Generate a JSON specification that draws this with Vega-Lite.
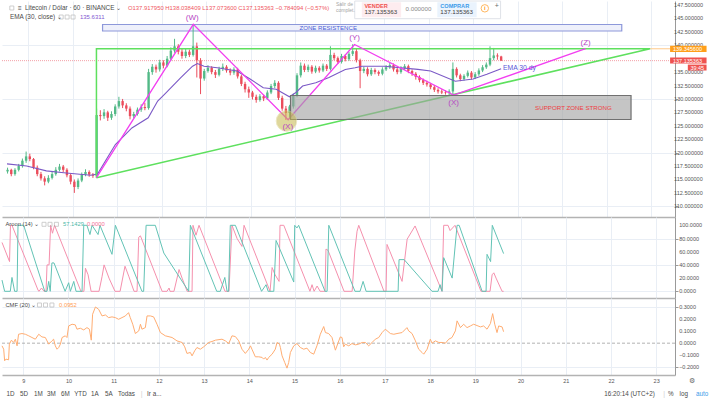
{
  "$schema": "https://vega.github.io/schema/vega-lite/v6.json",
  "background": "#ffffff",
  "padding": 0,
  "spacing": 0,
  "bounds": "flush",
  "config": {
    "view": {"stroke": null},
    "text": {"font": "Liberation Sans"},
    "axis": {"labelFont": "Liberation Sans"}
  },
  "resolve": {"scale": {"x": "independent", "y": "independent"}},
  "datasets": {
    "candles": [
      {"t":205,"o":116.5,"h":117.2,"l":116.1,"c":116.8},
      {"t":207,"o":116.8,"h":117.0,"l":115.6,"c":116.0},
      {"t":209,"o":116.0,"h":117.1,"l":115.7,"c":116.8},
      {"t":211,"o":116.8,"h":117.9,"l":116.5,"c":117.5},
      {"t":213,"o":117.5,"h":118.9,"l":117.2,"c":118.5},
      {"t":215,"o":118.5,"h":120.2,"l":118.1,"c":119.3},
      {"t":217,"o":119.3,"h":119.8,"l":118.4,"c":118.8},
      {"t":219,"o":118.8,"h":119.0,"l":116.9,"c":117.2},
      {"t":221,"o":117.2,"h":117.6,"l":115.6,"c":116.0},
      {"t":223,"o":116.0,"h":116.4,"l":114.8,"c":115.2},
      {"t":225,"o":115.2,"h":115.6,"l":113.9,"c":114.6},
      {"t":227,"o":114.6,"h":115.8,"l":114.3,"c":115.3},
      {"t":229,"o":115.3,"h":116.4,"l":115.0,"c":116.0},
      {"t":231,"o":116.0,"h":117.3,"l":115.7,"c":116.8},
      {"t":233,"o":116.8,"h":117.9,"l":116.5,"c":117.4},
      {"t":235,"o":117.4,"h":117.7,"l":116.4,"c":116.8},
      {"t":237,"o":116.8,"h":117.1,"l":115.4,"c":115.8},
      {"t":239,"o":115.8,"h":116.1,"l":114.1,"c":114.6},
      {"t":241,"o":114.6,"h":115.0,"l":112.5,"c":113.6},
      {"t":243,"o":113.6,"h":115.2,"l":113.2,"c":114.8},
      {"t":245,"o":114.8,"h":116.3,"l":114.5,"c":115.9},
      {"t":247,"o":115.9,"h":116.9,"l":115.6,"c":116.4},
      {"t":249,"o":116.4,"h":116.7,"l":115.5,"c":115.9},
      {"t":251,"o":115.9,"h":116.2,"l":115.3,"c":115.7},
      {"t":253,"o":115.7,"h":128.2,"l":115.3,"c":127.0},
      {"t":255,"o":127.0,"h":127.9,"l":126.0,"c":126.8},
      {"t":257,"o":126.8,"h":128.1,"l":126.3,"c":127.5},
      {"t":259,"o":127.5,"h":127.8,"l":125.9,"c":126.5},
      {"t":261,"o":126.5,"h":127.7,"l":126.1,"c":127.2},
      {"t":263,"o":127.2,"h":129.0,"l":126.8,"c":128.6},
      {"t":265,"o":128.6,"h":130.4,"l":128.2,"c":129.6},
      {"t":267,"o":129.6,"h":130.0,"l":128.3,"c":128.8},
      {"t":269,"o":128.8,"h":129.2,"l":127.7,"c":128.2},
      {"t":271,"o":128.2,"h":128.6,"l":126.2,"c":126.8},
      {"t":273,"o":126.8,"h":127.6,"l":126.4,"c":127.2},
      {"t":275,"o":127.2,"h":128.4,"l":126.9,"c":128.0},
      {"t":277,"o":128.0,"h":129.0,"l":127.6,"c":128.5},
      {"t":279,"o":128.5,"h":129.3,"l":127.9,"c":128.3},
      {"t":281,"o":128.3,"h":135.6,"l":128.0,"c":135.0},
      {"t":283,"o":135.0,"h":136.5,"l":134.5,"c":136.0},
      {"t":285,"o":136.0,"h":136.4,"l":134.9,"c":135.5},
      {"t":287,"o":135.5,"h":137.3,"l":135.1,"c":136.8},
      {"t":289,"o":136.8,"h":137.2,"l":135.7,"c":136.2},
      {"t":291,"o":136.2,"h":138.0,"l":135.9,"c":137.5},
      {"t":293,"o":137.5,"h":139.6,"l":137.1,"c":139.0},
      {"t":295,"o":139.0,"h":141.2,"l":138.6,"c":139.8},
      {"t":297,"o":139.8,"h":140.2,"l":138.3,"c":138.8},
      {"t":299,"o":138.8,"h":139.3,"l":137.5,"c":138.0},
      {"t":301,"o":138.0,"h":139.4,"l":137.6,"c":138.8},
      {"t":303,"o":138.8,"h":139.2,"l":137.8,"c":138.2},
      {"t":305,"o":138.2,"h":143.9,"l":137.9,"c":139.8},
      {"t":307,"o":139.8,"h":140.5,"l":134.0,"c":137.2},
      {"t":309,"o":137.2,"h":137.6,"l":130.9,"c":133.8},
      {"t":311,"o":133.8,"h":135.6,"l":133.4,"c":135.2},
      {"t":313,"o":135.2,"h":136.3,"l":134.9,"c":135.8},
      {"t":315,"o":135.8,"h":136.1,"l":134.6,"c":135.0},
      {"t":317,"o":135.0,"h":135.4,"l":133.9,"c":134.5},
      {"t":319,"o":134.5,"h":136.0,"l":134.2,"c":135.6},
      {"t":321,"o":135.6,"h":136.6,"l":135.2,"c":136.0},
      {"t":323,"o":136.0,"h":136.3,"l":134.9,"c":135.3},
      {"t":325,"o":135.3,"h":135.7,"l":134.4,"c":134.9},
      {"t":327,"o":134.9,"h":135.9,"l":134.5,"c":135.5},
      {"t":329,"o":135.5,"h":135.8,"l":133.8,"c":134.2},
      {"t":331,"o":134.2,"h":134.5,"l":132.4,"c":132.8},
      {"t":333,"o":132.8,"h":133.2,"l":131.2,"c":131.8},
      {"t":335,"o":131.8,"h":132.3,"l":130.2,"c":131.2},
      {"t":337,"o":131.2,"h":131.5,"l":129.9,"c":130.4},
      {"t":339,"o":130.4,"h":130.8,"l":129.3,"c":129.8},
      {"t":341,"o":129.8,"h":130.9,"l":129.5,"c":130.5},
      {"t":343,"o":130.5,"h":130.8,"l":129.6,"c":130.1},
      {"t":345,"o":130.1,"h":131.6,"l":129.8,"c":131.2},
      {"t":347,"o":131.2,"h":132.8,"l":130.9,"c":132.4},
      {"t":349,"o":132.4,"h":133.5,"l":132.0,"c":133.0},
      {"t":351,"o":133.0,"h":133.3,"l":129.8,"c":130.2},
      {"t":353,"o":130.2,"h":130.6,"l":127.8,"c":128.2},
      {"t":355,"o":128.2,"h":128.7,"l":126.1,"c":127.4},
      {"t":357,"o":127.4,"h":128.9,"l":126.3,"c":128.6},
      {"t":359,"o":128.6,"h":131.0,"l":128.2,"c":130.6},
      {"t":361,"o":130.6,"h":134.8,"l":130.3,"c":134.4},
      {"t":363,"o":134.4,"h":136.8,"l":134.0,"c":136.2},
      {"t":365,"o":136.2,"h":136.6,"l":135.0,"c":135.4},
      {"t":367,"o":135.4,"h":136.4,"l":135.0,"c":136.0},
      {"t":369,"o":136.0,"h":136.3,"l":134.7,"c":135.1},
      {"t":371,"o":135.1,"h":136.2,"l":134.8,"c":135.8},
      {"t":373,"o":135.8,"h":136.1,"l":134.9,"c":135.3},
      {"t":375,"o":135.3,"h":136.6,"l":135.0,"c":136.2},
      {"t":377,"o":136.2,"h":136.5,"l":135.2,"c":135.6},
      {"t":379,"o":135.6,"h":139.8,"l":135.3,"c":138.2},
      {"t":381,"o":138.2,"h":138.6,"l":137.2,"c":137.6},
      {"t":383,"o":137.6,"h":137.9,"l":136.5,"c":136.9},
      {"t":385,"o":136.9,"h":138.4,"l":136.6,"c":138.0},
      {"t":387,"o":138.0,"h":138.3,"l":137.0,"c":137.4},
      {"t":389,"o":137.4,"h":138.8,"l":137.1,"c":138.4},
      {"t":391,"o":138.4,"h":140.2,"l":138.0,"c":138.9},
      {"t":393,"o":138.9,"h":139.3,"l":136.8,"c":137.2},
      {"t":395,"o":137.2,"h":137.5,"l":132.0,"c":135.2},
      {"t":397,"o":135.2,"h":136.0,"l":134.8,"c":135.6},
      {"t":399,"o":135.6,"h":135.9,"l":134.2,"c":134.6},
      {"t":401,"o":134.6,"h":135.8,"l":134.3,"c":135.4},
      {"t":403,"o":135.4,"h":135.7,"l":134.6,"c":135.0},
      {"t":405,"o":135.0,"h":135.3,"l":134.3,"c":134.7},
      {"t":407,"o":134.7,"h":135.9,"l":134.4,"c":135.5},
      {"t":409,"o":135.5,"h":136.3,"l":135.2,"c":135.9},
      {"t":411,"o":135.9,"h":136.7,"l":135.6,"c":136.3},
      {"t":413,"o":136.3,"h":136.6,"l":135.1,"c":135.5},
      {"t":415,"o":135.5,"h":135.8,"l":134.6,"c":135.0},
      {"t":417,"o":135.0,"h":136.1,"l":134.7,"c":135.7},
      {"t":419,"o":135.7,"h":136.5,"l":135.4,"c":136.1},
      {"t":421,"o":136.1,"h":136.4,"l":134.8,"c":135.2},
      {"t":423,"o":135.2,"h":135.5,"l":134.3,"c":134.7},
      {"t":425,"o":134.7,"h":135.0,"l":133.6,"c":134.1},
      {"t":427,"o":134.1,"h":134.4,"l":133.1,"c":133.5},
      {"t":429,"o":133.5,"h":133.8,"l":132.6,"c":133.0},
      {"t":431,"o":133.0,"h":133.4,"l":132.3,"c":132.7},
      {"t":433,"o":132.7,"h":133.0,"l":131.8,"c":132.2},
      {"t":435,"o":132.2,"h":132.6,"l":131.3,"c":131.7},
      {"t":437,"o":131.7,"h":132.0,"l":131.0,"c":131.4},
      {"t":439,"o":131.4,"h":131.8,"l":130.9,"c":131.2},
      {"t":441,"o":131.2,"h":131.6,"l":130.8,"c":131.1},
      {"t":443,"o":131.1,"h":131.8,"l":130.6,"c":131.4},
      {"t":445,"o":131.4,"h":136.8,"l":130.7,"c":135.6},
      {"t":447,"o":135.6,"h":135.9,"l":134.0,"c":134.4},
      {"t":449,"o":134.4,"h":134.7,"l":133.3,"c":133.7},
      {"t":451,"o":133.7,"h":134.6,"l":133.4,"c":134.3},
      {"t":453,"o":134.3,"h":135.3,"l":134.0,"c":134.9},
      {"t":455,"o":134.9,"h":135.2,"l":133.6,"c":134.0},
      {"t":457,"o":134.0,"h":135.0,"l":133.7,"c":134.6},
      {"t":459,"o":134.6,"h":135.7,"l":134.3,"c":135.3},
      {"t":461,"o":135.3,"h":136.3,"l":135.0,"c":135.9},
      {"t":463,"o":135.9,"h":136.8,"l":135.6,"c":136.4},
      {"t":465,"o":136.4,"h":139.8,"l":136.1,"c":137.6},
      {"t":467,"o":137.6,"h":139.5,"l":137.2,"c":138.1},
      {"t":469,"o":138.1,"h":138.5,"l":137.3,"c":137.92},
      {"t":471,"o":137.918,"h":138.038,"l":137.074,"c":137.135}
    ],
    "ema": [
      {"t":204.7,"p":117.9},{"t":215.3,"p":117.5},{"t":225.9,"p":116.6},{"t":236.6,"p":116.2},
      {"t":249.8,"p":115.8},{"t":253.5,"p":116.0},{"t":257.8,"p":118.5},{"t":263.1,"p":121.5},
      {"t":272.0,"p":124.6},{"t":280.8,"p":126.5},{"t":285.9,"p":129.6},{"t":289.7,"p":130.9},
      {"t":298.5,"p":134.0},{"t":304.7,"p":136.1},{"t":307.3,"p":136.6},{"t":310.9,"p":136.1},
      {"t":318.0,"p":135.8},{"t":328.6,"p":135.2},{"t":335.7,"p":133.7},{"t":342.8,"p":132.1},
      {"t":349.8,"p":131.8},{"t":356.9,"p":130.4},{"t":360.4,"p":131.2},{"t":364.0,"p":132.4},
      {"t":371.1,"p":133.0},{"t":378.2,"p":134.0},{"t":387.0,"p":135.5},{"t":392.3,"p":135.8},
      {"t":395.9,"p":136.1},{"t":408.1,"p":136.1},{"t":426.1,"p":135.5},{"t":433.0,"p":135.2},
      {"t":446.3,"p":133.3},{"t":455.9,"p":133.7},{"t":463.3,"p":134.6},{"t":471.0,"p":135.63}
    ],
    "aroonUp": [
      {"t":204.7,"v":17},{"t":206.1,"v":0},{"t":209.1,"v":0},{"t":210.0,"v":21},{"t":211.4,"v":0},
      {"t":212.7,"v":0},{"t":213.2,"v":100},{"t":216.2,"v":100},{"t":227.4,"v":0},{"t":228.6,"v":0},
      {"t":229.5,"v":15},{"t":230.3,"v":0},{"t":231.2,"v":43},{"t":232.3,"v":43},{"t":238.2,"v":0},
      {"t":240.1,"v":13},{"t":241.0,"v":0},{"t":242.8,"v":15},{"t":244.0,"v":0},{"t":247.2,"v":0},
      {"t":248.1,"v":100},{"t":249.8,"v":100},{"t":251.4,"v":86},{"t":252.5,"v":100},{"t":255.7,"v":86},
      {"t":256.7,"v":100},{"t":263.1,"v":56},{"t":264.9,"v":100},{"t":279.0,"v":0},{"t":279.9,"v":0},
      {"t":281.2,"v":100},{"t":286.1,"v":100},{"t":290.6,"v":58},{"t":303.8,"v":0},{"t":304.7,"v":100},
      {"t":318.7,"v":0},{"t":320.6,"v":0},{"t":323.0,"v":21},{"t":324.2,"v":0},{"t":325.0,"v":0},
      {"t":325.9,"v":100},{"t":328.6,"v":100},{"t":342.5,"v":0},{"t":344.9,"v":10},{"t":346.0,"v":0},
      {"t":349.0,"v":0},{"t":350.2,"v":77},{"t":351.3,"v":70},{"t":359.6,"v":14},{"t":360.1,"v":100},
      {"t":361.3,"v":96},{"t":362.2,"v":100},{"t":376.2,"v":0},{"t":377.3,"v":0},{"t":378.2,"v":100},
      {"t":392.1,"v":0},{"t":394.8,"v":0},{"t":396.4,"v":15},{"t":398.0,"v":0},{"t":415.0,"v":0},
      {"t":415.5,"v":48},{"t":418.2,"v":48},{"t":433.0,"v":0},{"t":436.2,"v":0},{"t":437.3,"v":10},
      {"t":438.3,"v":0},{"t":439.2,"v":51},{"t":443.7,"v":20},{"t":446.3,"v":100},{"t":447.4,"v":100},
      {"t":459.6,"v":0},{"t":461.7,"v":0},{"t":462.2,"v":56},{"t":464.1,"v":45},{"t":465.0,"v":100},
      {"t":471.0,"v":57.14}
    ],
    "aroonDown": [
      {"t":204.7,"v":74},{"t":208.7,"v":45},{"t":209.2,"v":100},{"t":210.0,"v":100},{"t":223.8,"v":2},
      {"t":224.3,"v":0},{"t":225.7,"v":5},{"t":227.0,"v":0},{"t":228.1,"v":0},{"t":228.6,"v":40},
      {"t":229.7,"v":40},{"t":230.5,"v":100},{"t":231.5,"v":88},{"t":232.6,"v":100},{"t":246.6,"v":0},
      {"t":248.2,"v":0},{"t":249.0,"v":35},{"t":250.4,"v":25},{"t":252.0,"v":0},{"t":256.2,"v":0},
      {"t":257.8,"v":22},{"t":258.9,"v":40},{"t":261.5,"v":20},{"t":264.7,"v":0},{"t":267.4,"v":0},
      {"t":270.0,"v":38},{"t":272.1,"v":22},{"t":274.8,"v":0},{"t":276.4,"v":0},{"t":277.3,"v":82},
      {"t":278.2,"v":84},{"t":289.7,"v":0},{"t":292.3,"v":0},{"t":293.4,"v":5},{"t":293.9,"v":0},
      {"t":296.0,"v":0},{"t":298.7,"v":33},{"t":300.3,"v":20},{"t":303.0,"v":0},{"t":305.6,"v":0},
      {"t":306.1,"v":100},{"t":307.7,"v":85},{"t":309.3,"v":100},{"t":323.1,"v":0},{"t":325.2,"v":0},
      {"t":326.8,"v":100},{"t":329.5,"v":80},{"t":332.1,"v":68},{"t":333.2,"v":100},{"t":347.0,"v":0},
      {"t":348.1,"v":36},{"t":349.7,"v":25},{"t":351.8,"v":15},{"t":352.3,"v":100},{"t":354.3,"v":100},
      {"t":368.2,"v":0},{"t":369.3,"v":10},{"t":370.4,"v":0},{"t":372.0,"v":8},{"t":373.6,"v":0},
      {"t":376.2,"v":0},{"t":376.7,"v":64},{"t":377.8,"v":62},{"t":386.3,"v":0},{"t":390.6,"v":0},
      {"t":392.0,"v":61},{"t":393.2,"v":91},{"t":394.1,"v":100},{"t":407.5,"v":0},{"t":408.6,"v":0},
      {"t":409.1,"v":71},{"t":410.7,"v":60},{"t":417.1,"v":15},{"t":419.8,"v":79},{"t":424.0,"v":99},
      {"t":438.3,"v":0},{"t":439.2,"v":100},{"t":441.5,"v":100},{"t":442.6,"v":92},{"t":445.2,"v":100},
      {"t":459.0,"v":0},{"t":463.8,"v":0},{"t":464.9,"v":25},{"t":465.8,"v":28},{"t":467.0,"v":20},
      {"t":470.2,"v":0},{"t":471.0,"v":0}
    ],
    "cmf": [
      {"t":204.7,"v":-0.022},{"t":205.6,"v":-0.05},{"t":206.1,"v":-0.146},{"t":206.8,"v":-0.132},{"t":208.2,"v":-0.138},
      {"t":208.6,"v":-0.008},{"t":209.7,"v":0.025},{"t":210.9,"v":0.006},{"t":211.8,"v":0.033},{"t":212.7,"v":-0.022},
      {"t":213.5,"v":0.074},{"t":215.3,"v":0.08},{"t":217.1,"v":0.074},{"t":218.9,"v":0.061},{"t":220.6,"v":0.047},
      {"t":222.4,"v":0.033},{"t":224.2,"v":0.074},{"t":225.9,"v":0.052},{"t":227.7,"v":0.047},{"t":229.5,"v":-0.008},
      {"t":231.2,"v":0.019},{"t":232.1,"v":0.033},{"t":233.0,"v":-0.022},{"t":233.9,"v":-0.05},{"t":234.8,"v":-0.036},
      {"t":235.7,"v":-0.008},{"t":236.6,"v":0.047},{"t":238.3,"v":0.061},{"t":239.2,"v":0.047},{"t":240.1,"v":0.143},
      {"t":241.9,"v":0.157},{"t":243.6,"v":0.152},{"t":244.5,"v":0.116},{"t":246.3,"v":0.124},{"t":248.1,"v":0.11},
      {"t":249.8,"v":0.129},{"t":251.1,"v":0.116},{"t":252.1,"v":0.025},{"t":252.8,"v":0.24},{"t":254.3,"v":0.3},
      {"t":256.0,"v":0.281},{"t":257.8,"v":0.226},{"t":259.6,"v":0.234},{"t":261.3,"v":0.212},{"t":263.1,"v":0.218},
      {"t":264.9,"v":0.212},{"t":266.6,"v":0.198},{"t":268.4,"v":0.212},{"t":270.2,"v":0.226},{"t":271.9,"v":0.253},
      {"t":272.8,"v":0.212},{"t":274.1,"v":0.157},{"t":275.5,"v":0.08},{"t":277.3,"v":0.102},{"t":278.2,"v":0.157},
      {"t":279.0,"v":0.116},{"t":280.8,"v":0.129},{"t":281.7,"v":0.226},{"t":283.5,"v":0.226},{"t":285.2,"v":0.218},
      {"t":287.0,"v":0.157},{"t":288.8,"v":0.088},{"t":291.4,"v":0.061},{"t":295.0,"v":0.047},{"t":297.6,"v":0.019},
      {"t":300.3,"v":0.006},{"t":301.7,"v":-0.03},{"t":302.9,"v":-0.085},{"t":304.7,"v":-0.077},{"t":305.6,"v":-0.105},
      {"t":307.0,"v":-0.063},{"t":308.2,"v":-0.036},{"t":310.0,"v":-0.05},{"t":311.8,"v":-0.03},{"t":314.4,"v":0.006},
      {"t":316.2,"v":0.014},{"t":318.0,"v":0.025},{"t":321.5,"v":0.033},{"t":323.3,"v":0.019},{"t":325.1,"v":-0.003},
      {"t":326.8,"v":0.061},{"t":328.6,"v":0.055},{"t":330.4,"v":0.019},{"t":332.1,"v":-0.05},{"t":333.9,"v":-0.085},
      {"t":335.7,"v":-0.05},{"t":336.6,"v":-0.022},{"t":337.4,"v":-0.05},{"t":339.2,"v":-0.113},{"t":341.0,"v":-0.113},
      {"t":342.8,"v":-0.118},{"t":343.6,"v":-0.132},{"t":344.5,"v":-0.118},{"t":345.4,"v":-0.14},{"t":346.3,"v":-0.118},
      {"t":348.1,"v":-0.091},{"t":349.8,"v":-0.05},{"t":350.7,"v":0.006},{"t":352.0,"v":-0.008},{"t":352.5,"v":-0.036},
      {"t":353.4,"v":-0.105},{"t":354.8,"v":-0.16},{"t":356.0,"v":-0.207},{"t":356.9,"v":-0.16},{"t":357.8,"v":-0.077},
      {"t":359.6,"v":-0.022},{"t":361.3,"v":-0.003},{"t":363.1,"v":-0.036},{"t":364.9,"v":-0.05},{"t":366.6,"v":-0.041},
      {"t":368.4,"v":-0.077},{"t":370.2,"v":-0.091},{"t":371.9,"v":-0.022},{"t":373.7,"v":0.074},{"t":375.5,"v":0.138},
      {"t":376.4,"v":0.088},{"t":378.1,"v":0.08},{"t":379.9,"v":0.047},{"t":381.7,"v":-0.058},{"t":383.5,"v":0.019},
      {"t":384.3,"v":0.052},{"t":385.2,"v":0.047},{"t":386.1,"v":-0.03},{"t":387.0,"v":-0.008},{"t":388.8,"v":-0.022},
      {"t":390.5,"v":-0.003},{"t":392.3,"v":-0.014},{"t":394.1,"v":-0.008},{"t":395.9,"v":0.006},{"t":397.6,"v":0.006},
      {"t":399.4,"v":-0.022},{"t":401.2,"v":0.006},{"t":402.9,"v":0.033},{"t":404.7,"v":0.047},{"t":406.5,"v":0.088},
      {"t":408.2,"v":0.116},{"t":410.9,"v":0.08},{"t":412.7,"v":0.074},{"t":414.4,"v":0.08},{"t":417.1,"v":0.088},
      {"t":419.7,"v":0.129},{"t":420.6,"v":0.102},{"t":422.4,"v":0.08},{"t":424.2,"v":0.019},{"t":425.9,"v":-0.05},
      {"t":427.7,"v":-0.077},{"t":428.6,"v":-0.091},{"t":430.4,"v":-0.05},{"t":432.1,"v":0.033},{"t":433.0,"v":0.0},
      {"t":434.8,"v":0.019},{"t":436.6,"v":0.006},{"t":438.3,"v":0.006},{"t":440.1,"v":0.0},{"t":441.9,"v":0.033},
      {"t":443.6,"v":0.047},{"t":445.4,"v":0.102},{"t":446.3,"v":0.185},{"t":448.1,"v":0.129},{"t":449.8,"v":0.157},
      {"t":451.6,"v":0.129},{"t":453.4,"v":0.143},{"t":455.1,"v":0.157},{"t":456.9,"v":0.146},{"t":458.7,"v":0.135},
      {"t":460.4,"v":0.143},{"t":462.2,"v":0.116},{"t":464.0,"v":0.163},{"t":465.2,"v":0.245},{"t":466.3,"v":0.157},
      {"t":467.5,"v":0.088},{"t":468.4,"v":0.143},{"t":470.2,"v":0.135},{"t":471.0,"v":0.0952}
    ]
  },
  "vconcat": [
    {
      "width": 673,
      "height": 216,
      "layer": [
        {
          "data": {"values": [{"t": 256.2, "t2": 536.0, "p": 142.66, "p2": 143.87}]},
          "mark": {"type": "rect", "fill": "#eef0fb", "stroke": "#8d98da", "strokeWidth": 1.2},
          "encoding": {
            "x": {"field": "t", "type": "quantitative",
              "scale": {"domain": [204.7, 562], "nice": false, "zero": false},
              "axis": {"title": null, "values": [216,240,264,288,312,336,360,384,408,432,456,480,504,528,552],
                "grid": true, "gridColor": "#e9eef5", "labels": false, "ticks": false,
                "domain": true, "domainColor": "#b3b3b3", "domainWidth": 1.5}},
            "x2": {"field": "t2"},
            "y": {"field": "p", "type": "quantitative",
              "scale": {"domain": [108.01, 148.245], "nice": false, "zero": false},
              "axis": {"title": null, "orient": "right",
                "values": [110,112.5,115,117.5,120,122.5,125,127.5,130,132.5,135,137.5,140,142.5,145,147.5],
                "labels": false, "grid": true, "gridColor": "#e9eef5", "tickSize": 3, "tickColor": "#9a9a9a",
                "domainColor": "#9a9a9a"}},
            "y2": {"field": "p2"}
          }
        },
        {
          "data": {"values": [
            {"p": 110}, {"p": 112.5}, {"p": 115}, {"p": 117.5}, {"p": 120}, {"p": 122.5}, {"p": 125}, {"p": 127.5},
            {"p": 130}, {"p": 132.5}, {"p": 135}, {"p": 140}, {"p": 142.5}, {"p": 145}, {"p": 147.5}
          ]},
          "mark": {"type": "text", "fontSize": 5.5, "color": "#555555", "align": "left", "baseline": "middle", "clip": false},
          "encoding": {
            "x": {"datum": 564.2, "type": "quantitative"},
            "y": {"field": "p", "type": "quantitative"},
            "text": {"field": "p", "type": "quantitative", "format": ".6f"}
          }
        },
        {
          "data": {"values": [{}]},
          "mark": {"type": "rule", "color": "#f08a92", "strokeWidth": 1, "strokeDash": [1, 1], "opacity": 0.8},
          "encoding": {"y": {"datum": 137.135, "type": "quantitative"}}
        },
        {
          "data": {"values": [{"t": 551.3, "t2": 562, "p": 139.3456}]},
          "mark": {"type": "rule", "color": "#ffc98a", "strokeWidth": 1},
          "encoding": {
            "x": {"field": "t", "type": "quantitative"},
            "x2": {"field": "t2"},
            "y": {"field": "p", "type": "quantitative"}
          }
        },
        {
          "data": {"name": "candles"},
          "mark": {"type": "rule", "strokeWidth": 1},
          "encoding": {
            "x": {"field": "t", "type": "quantitative"},
            "y": {"field": "l", "type": "quantitative"},
            "y2": {"field": "h"},
            "color": {"condition": {"test": "datum.c >= datum.o", "value": "#53b987"}, "value": "#eb4d5c"}
          }
        },
        {
          "data": {"name": "candles"},
          "mark": {"type": "bar", "width": 2.4},
          "encoding": {
            "x": {"field": "t", "type": "quantitative"},
            "y": {"field": "o", "type": "quantitative"},
            "y2": {"field": "c"},
            "color": {"condition": {"test": "datum.c >= datum.o", "value": "#53b987"}, "value": "#eb4d5c"}
          }
        },
        {
          "data": {"name": "ema"},
          "mark": {"type": "line", "color": "#7b59c6", "strokeWidth": 1.1},
          "encoding": {
            "x": {"field": "t", "type": "quantitative"},
            "y": {"field": "p", "type": "quantitative"}
          }
        },
        {
          "data": {"values": [
            {"t": 252.9, "p": 115.33, "i": 0},
            {"t": 252.9, "p": 139.35, "i": 1},
            {"t": 551.3, "p": 139.35, "i": 2},
            {"t": 252.9, "p": 115.33, "i": 3}
          ]},
          "mark": {"type": "line", "color": "#5ee05e", "strokeWidth": 1.5},
          "encoding": {
            "x": {"field": "t", "type": "quantitative"},
            "y": {"field": "p", "type": "quantitative"},
            "order": {"field": "i"}
          }
        },
        {
          "data": {"values": [
            {"t": 252.9, "p": 115.33}, {"t": 305.1, "p": 143.9}, {"t": 356.2, "p": 126.13},
            {"t": 392.0, "p": 140.14}, {"t": 445.4, "p": 130.73}, {"t": 516.5, "p": 139.36}
          ]},
          "mark": {"type": "line", "color": "#f23ef0", "strokeWidth": 1.3},
          "encoding": {
            "x": {"field": "t", "type": "quantitative"},
            "y": {"field": "p", "type": "quantitative"}
          }
        },
        {
          "data": {"values": [{"t": 357.5, "t2": 541.0, "p": 126.17, "p2": 130.64}]},
          "mark": {"type": "rect", "fill": "#a2a2a2", "fillOpacity": 0.62, "stroke": "#707070", "strokeWidth": 1.2},
          "encoding": {
            "x": {"field": "t", "type": "quantitative"},
            "x2": {"field": "t2"},
            "y": {"field": "p", "type": "quantitative"},
            "y2": {"field": "p2"}
          }
        },
        {
          "data": {"values": [{"t": 355.3, "p": 125.9}]},
          "mark": {"type": "point", "shape": "circle", "filled": true, "size": 420, "color": "#c6b84a", "opacity": 0.55, "stroke": "#ddd48f", "strokeWidth": 1},
          "encoding": {
            "x": {"field": "t", "type": "quantitative"},
            "y": {"field": "p", "type": "quantitative"}
          }
        },
        {
          "data": {"values": [
            {"t": 304.5, "p": 145.08, "s": "(W)"}, {"t": 356.0, "p": 124.77, "s": "(X)"},
            {"t": 392.0, "p": 141.41, "s": "(Y)"}, {"t": 445.4, "p": 129.3, "s": "(X)"},
            {"t": 516.5, "p": 140.37, "s": "(Z)"}
          ]},
          "mark": {"type": "text", "fontSize": 8, "color": "#b645c4", "align": "center", "baseline": "middle"},
          "encoding": {
            "x": {"field": "t", "type": "quantitative"},
            "y": {"field": "p", "type": "quantitative"},
            "text": {"field": "s"}
          }
        },
        {
          "data": {"values": [{"t": 377.8, "p": 143.22, "s": "ZONE RESISTENCE"}]},
          "mark": {"type": "text", "fontSize": 6.1, "color": "#4a5cd6", "align": "center", "baseline": "middle"},
          "encoding": {
            "x": {"field": "t", "type": "quantitative"},
            "y": {"field": "p", "type": "quantitative"},
            "text": {"field": "s"}
          }
        },
        {
          "data": {"values": [{"t": 510.0, "p": 128.26, "s": "SUPPORT ZONE STRONG"}]},
          "mark": {"type": "text", "fontSize": 6.2, "color": "#ee3f44", "align": "center", "baseline": "middle"},
          "encoding": {
            "x": {"field": "t", "type": "quantitative"},
            "y": {"field": "p", "type": "quantitative"},
            "text": {"field": "s"}
          }
        },
        {
          "data": {"values": [{"t": 472.0, "p": 135.76, "s": "EMA 30 dy"}]},
          "mark": {"type": "text", "fontSize": 6.8, "color": "#5a55d8", "align": "left", "baseline": "middle"},
          "encoding": {
            "x": {"field": "t", "type": "quantitative"},
            "y": {"field": "p", "type": "quantitative"},
            "text": {"field": "s"}
          }
        },
        {
          "data": {"values": [{"t": 392.1, "t2": 470.7, "p": 144.95, "p2": 148.24}]},
          "mark": {"type": "rect", "fill": "#ffffff", "stroke": "#dfe2e8", "strokeWidth": 1},
          "encoding": {
            "x": {"field": "t", "type": "quantitative"},
            "x2": {"field": "t2"},
            "y": {"field": "p", "type": "quantitative"},
            "y2": {"field": "p2"}
          }
        },
        {
          "data": {"values": [{"t": 395.9, "t2": 417.1, "p": 145.2, "p2": 148.0}]},
          "mark": {"type": "rect", "fill": "#fdecef"},
          "encoding": {
            "x": {"field": "t", "type": "quantitative"},
            "x2": {"field": "t2"},
            "y": {"field": "p", "type": "quantitative"},
            "y2": {"field": "p2"}
          }
        },
        {
          "data": {"values": [{"t": 436.6, "t2": 457.8, "p": 145.2, "p2": 148.0}]},
          "mark": {"type": "rect", "fill": "#eaf3fd"},
          "encoding": {
            "x": {"field": "t", "type": "quantitative"},
            "x2": {"field": "t2"},
            "y": {"field": "p", "type": "quantitative"},
            "y2": {"field": "p2"}
          }
        },
        {
          "data": {"values": [
            {"t": 207.3, "p": 146.94}, {"t": 233.9, "p": 145.26}, {"t": 237.1, "p": 145.26}, {"t": 240.3, "p": 145.26}
          ]},
          "mark": {"type": "point", "shape": "square", "filled": false, "size": 16, "color": "#a9a9a9", "strokeWidth": 0.8},
          "encoding": {
            "x": {"field": "t", "type": "quantitative"},
            "y": {"field": "p", "type": "quantitative"}
          }
        },
        {
          "data": {"values": [
            {"t": 210.6, "p": 146.94, "s": "≡"},
            {"t": 214.4, "p": 146.94, "s": "Litecoin / Dólar · 60 · BINANCE ⌄"},
            {"t": 206.3, "p": 145.26, "s": "EMA (30, close) ⌄"}
          ]},
          "mark": {"type": "text", "fontSize": 6.4, "color": "#4a4a4a", "align": "left", "baseline": "middle"},
          "encoding": {
            "x": {"field": "t", "type": "quantitative"},
            "y": {"field": "p", "type": "quantitative"},
            "text": {"field": "s"}
          }
        },
        {
          "data": {"values": [{"t": 269.9, "p": 146.94, "s": "O137.917950 H138.038409 L137.073600 C137.135363 −0.784094 (−0.57%)"}]},
          "mark": {"type": "text", "fontSize": 5.9, "color": "#ef5661", "align": "left", "baseline": "middle"},
          "encoding": {
            "x": {"field": "t", "type": "quantitative"},
            "y": {"field": "p", "type": "quantitative"},
            "text": {"field": "s"}
          }
        },
        {
          "data": {"values": [{"t": 244.0, "p": 145.26, "s": "135.6311"}]},
          "mark": {"type": "text", "fontSize": 6, "color": "#8457d2", "align": "left", "baseline": "middle"},
          "encoding": {
            "x": {"field": "t", "type": "quantitative"},
            "y": {"field": "p", "type": "quantitative"},
            "text": {"field": "s"}
          }
        },
        {
          "data": {"values": [{"t": 382.0, "p": 147.69, "s": "Salir de"}, {"t": 382.0, "p": 146.57, "s": "complet."}]},
          "mark": {"type": "text", "fontSize": 5, "color": "#a5a5a5", "align": "left", "baseline": "middle"},
          "encoding": {
            "x": {"field": "t", "type": "quantitative"},
            "y": {"field": "p", "type": "quantitative"},
            "text": {"field": "s"}
          }
        },
        {
          "data": {"values": [{"t": 397.3, "p": 147.31, "s": "VENDER"}]},
          "mark": {"type": "text", "fontSize": 5.6, "fontWeight": "bold", "color": "#ef5350", "align": "left", "baseline": "middle"},
          "encoding": {
            "x": {"field": "t", "type": "quantitative"},
            "y": {"field": "p", "type": "quantitative"},
            "text": {"field": "s"}
          }
        },
        {
          "data": {"values": [{"t": 438.2, "p": 147.31, "s": "COMPRAR"}]},
          "mark": {"type": "text", "fontSize": 5.6, "fontWeight": "bold", "color": "#3d9be9", "align": "left", "baseline": "middle"},
          "encoding": {
            "x": {"field": "t", "type": "quantitative"},
            "y": {"field": "p", "type": "quantitative"},
            "text": {"field": "s"}
          }
        },
        {
          "data": {"values": [{"t": 397.3, "p": 146.25, "s": "137.135363"}, {"t": 438.2, "p": 146.25, "s": "137.135363"}]},
          "mark": {"type": "text", "fontSize": 6.2, "color": "#3c3c3c", "align": "left", "baseline": "middle"},
          "encoding": {
            "x": {"field": "t", "type": "quantitative"},
            "y": {"field": "p", "type": "quantitative"},
            "text": {"field": "s"}
          }
        },
        {
          "data": {"values": [{"t": 419.5, "p": 146.75, "s": "0.000000"}]},
          "mark": {"type": "text", "fontSize": 6.2, "color": "#8a8a8a", "align": "left", "baseline": "middle"},
          "encoding": {
            "x": {"field": "t", "type": "quantitative"},
            "y": {"field": "p", "type": "quantitative"},
            "text": {"field": "s"}
          }
        },
        {
          "data": {"values": [{"t": 462.2, "p": 146.88}]},
          "mark": {"type": "point", "shape": "circle", "filled": false, "size": 55, "color": "#ff9a1f", "strokeWidth": 1},
          "encoding": {
            "x": {"field": "t", "type": "quantitative"},
            "y": {"field": "p", "type": "quantitative"}
          }
        },
        {
          "data": {"values": [{"t": 462.2, "p": 146.88, "s": "i"}]},
          "mark": {"type": "text", "fontSize": 6, "fontWeight": "bold", "color": "#ff9a1f", "align": "center", "baseline": "middle"},
          "encoding": {
            "x": {"field": "t", "type": "quantitative"},
            "y": {"field": "p", "type": "quantitative"},
            "text": {"field": "s"}
          }
        },
        {
          "data": {"values": [{"t": 468.6, "p": 147.3, "s": "+"}]},
          "mark": {"type": "text", "fontSize": 7, "color": "#6a6a6a", "align": "center", "baseline": "middle"},
          "encoding": {
            "x": {"field": "t", "type": "quantitative"},
            "y": {"field": "p", "type": "quantitative"},
            "text": {"field": "s"}
          }
        },
        {
          "data": {"values": [{"t": 562.05, "t2": 581.7, "p": 138.75, "p2": 139.9}]},
          "mark": {"type": "rect", "fill": "#ff9f1a", "clip": false},
          "encoding": {
            "x": {"field": "t", "type": "quantitative"},
            "x2": {"field": "t2"},
            "y": {"field": "p", "type": "quantitative"},
            "y2": {"field": "p2"}
          }
        },
        {
          "data": {"values": [{"t": 562.05, "t2": 581.7, "p": 136.58, "p2": 137.7}, {"t": 571.6, "t2": 581.7, "p": 135.3, "p2": 136.4}]},
          "mark": {"type": "rect", "fill": "#ef5350", "clip": false},
          "encoding": {
            "x": {"field": "t", "type": "quantitative"},
            "x2": {"field": "t2"},
            "y": {"field": "p", "type": "quantitative"},
            "y2": {"field": "p2"}
          }
        },
        {
          "data": {"values": [
            {"t": 563.6, "p": 139.33, "s": "139.345600"},
            {"t": 563.6, "p": 137.14, "s": "137.135363"},
            {"t": 573.0, "p": 135.85, "s": "39:45"}
          ]},
          "mark": {"type": "text", "fontSize": 5.5, "color": "#ffffff", "align": "left", "baseline": "middle"},
          "encoding": {
            "x": {"field": "t", "type": "quantitative"},
            "y": {"field": "p", "type": "quantitative"},
            "text": {"field": "s"}
          }
        }
      ]
    },
    {
      "width": 673,
      "height": 81,
      "layer": [
        {
          "data": {"name": "aroonDown"},
          "mark": {"type": "line", "color": "#f590ad", "strokeWidth": 1},
          "encoding": {
            "x": {"field": "t", "type": "quantitative",
              "scale": {"domain": [204.7, 562], "nice": false, "zero": false},
              "axis": {"title": null, "values": [216,240,264,288,312,336,360,384,408,432,456,480,504,528,552],
                "grid": true, "gridColor": "#e9eef5", "labels": false, "ticks": false,
                "domain": true, "domainColor": "#b3b3b3", "domainWidth": 1.5}},
            "y": {"field": "v", "type": "quantitative",
              "scale": {"domain": [-10.15, 112.58], "nice": false, "zero": false},
              "axis": {"title": null, "orient": "right", "values": [0, 20, 40, 60, 80, 100],
                "labels": false, "grid": true, "gridColor": "#e9eef5", "tickSize": 3, "tickColor": "#9a9a9a",
                "domainColor": "#9a9a9a"}}
          }
        },
        {
          "data": {"name": "aroonUp"},
          "mark": {"type": "line", "color": "#62c3b5", "strokeWidth": 1},
          "encoding": {
            "x": {"field": "t", "type": "quantitative"},
            "y": {"field": "v", "type": "quantitative"}
          }
        },
        {
          "data": {"values": [{"v": 0}, {"v": 20}, {"v": 40}, {"v": 60}, {"v": 80}, {"v": 100}]},
          "mark": {"type": "text", "fontSize": 5.5, "color": "#555555", "align": "left", "baseline": "middle", "clip": false},
          "encoding": {
            "x": {"datum": 564.2, "type": "quantitative"},
            "y": {"field": "v", "type": "quantitative"},
            "text": {"field": "v", "type": "quantitative", "format": ".4f"}
          }
        },
        {
          "data": {"values": [{"t": 227.0, "v": 101.5}, {"t": 230.2, "v": 101.5}, {"t": 233.6, "v": 101.5}]},
          "mark": {"type": "point", "shape": "square", "filled": false, "size": 16, "color": "#a9a9a9", "strokeWidth": 0.8},
          "encoding": {
            "x": {"field": "t", "type": "quantitative"},
            "y": {"field": "v", "type": "quantitative"}
          }
        },
        {
          "data": {"values": [{"t": 206.5, "v": 101.5, "s": "Aroon (14) ⌄"}]},
          "mark": {"type": "text", "fontSize": 5.8, "color": "#4a4a4a", "align": "left", "baseline": "middle"},
          "encoding": {
            "x": {"field": "t", "type": "quantitative"},
            "y": {"field": "v", "type": "quantitative"},
            "text": {"field": "s"}
          }
        },
        {
          "data": {"values": [{"t": 237.1, "v": 101.5, "s": "57.1429"}]},
          "mark": {"type": "text", "fontSize": 5.8, "color": "#4cb8a8", "align": "left", "baseline": "middle"},
          "encoding": {
            "x": {"field": "t", "type": "quantitative"},
            "y": {"field": "v", "type": "quantitative"},
            "text": {"field": "s"}
          }
        },
        {
          "data": {"values": [{"t": 249.8, "v": 101.5, "s": "0.0000"}]},
          "mark": {"type": "text", "fontSize": 5.8, "color": "#f36f95", "align": "left", "baseline": "middle"},
          "encoding": {
            "x": {"field": "t", "type": "quantitative"},
            "y": {"field": "v", "type": "quantitative"},
            "text": {"field": "s"}
          }
        }
      ]
    },
    {
      "width": 673,
      "height": 77,
      "layer": [
        {
          "data": {"values": [{}]},
          "mark": {"type": "rule", "color": "#9e9e9e", "strokeWidth": 0.8, "strokeDash": [3, 2]},
          "encoding": {"y": {"datum": 0, "type": "quantitative"}}
        },
        {
          "data": {"name": "cmf"},
          "mark": {"type": "line", "color": "#ffad72", "strokeWidth": 1},
          "encoding": {
            "x": {"field": "t", "type": "quantitative",
              "scale": {"domain": [204.7, 562], "nice": false, "zero": false},
              "axis": {"title": null, "values": [216,240,264,288,312,336,360,384,408,432,456,480,504,528,552],
                "labelExpr": "datum.value / 24", "grid": true, "gridColor": "#e9eef5", "ticks": false,
                "labelFontSize": 5.5, "labelColor": "#555555", "labelPadding": 3,
                "domain": true, "domainColor": "#b3b3b3", "domainWidth": 1.5}},
            "y": {"field": "v", "type": "quantitative",
              "scale": {"domain": [-0.2638, 0.3746], "nice": false, "zero": false},
              "axis": {"title": null, "orient": "right", "values": [-0.2, -0.1, 0, 0.1, 0.2, 0.3],
                "labels": false, "grid": true, "gridColor": "#e9eef5", "tickSize": 3, "tickColor": "#9a9a9a",
                "domainColor": "#9a9a9a"}}
          }
        },
        {
          "data": {"values": [
            {"v": -0.2, "s": "−0.2000"}, {"v": -0.1, "s": "−0.1000"}, {"v": 0, "s": "0.0000"},
            {"v": 0.1, "s": "0.1000"}, {"v": 0.2, "s": "0.2000"}, {"v": 0.3, "s": "0.3000"}
          ]},
          "mark": {"type": "text", "fontSize": 5.5, "color": "#555555", "align": "left", "baseline": "middle", "clip": false},
          "encoding": {
            "x": {"datum": 564.2, "type": "quantitative"},
            "y": {"field": "v", "type": "quantitative"},
            "text": {"field": "s"}
          }
        },
        {
          "data": {"values": [{"t": 224.6, "v": 0.3166}, {"t": 227.8, "v": 0.3166}, {"t": 231.2, "v": 0.3166}]},
          "mark": {"type": "point", "shape": "square", "filled": false, "size": 16, "color": "#a9a9a9", "strokeWidth": 0.8},
          "encoding": {
            "x": {"field": "t", "type": "quantitative"},
            "y": {"field": "v", "type": "quantitative"}
          }
        },
        {
          "data": {"values": [{"t": 206.5, "v": 0.3166, "s": "CMF (20) ⌄"}]},
          "mark": {"type": "text", "fontSize": 5.8, "color": "#4a4a4a", "align": "left", "baseline": "middle"},
          "encoding": {
            "x": {"field": "t", "type": "quantitative"},
            "y": {"field": "v", "type": "quantitative"},
            "text": {"field": "s"}
          }
        },
        {
          "data": {"values": [{"t": 235.0, "v": 0.3166, "s": "0.0952"}]},
          "mark": {"type": "text", "fontSize": 5.8, "color": "#ff9d52", "align": "left", "baseline": "middle"},
          "encoding": {
            "x": {"field": "t", "type": "quantitative"},
            "y": {"field": "v", "type": "quantitative"},
            "text": {"field": "s"}
          }
        }
      ]
    },
    {
      "width": 673,
      "height": 26,
      "layer": [
        {
          "data": {"values": [
            {"t": 207.1, "s": "1D"}, {"t": 214.3, "s": "5D"}, {"t": 221.7, "s": "1M"}, {"t": 228.6, "s": "3M"},
            {"t": 236.0, "s": "6M"}, {"t": 243.0, "s": "YTD"}, {"t": 252.0, "s": "1A"}, {"t": 259.4, "s": "5A"},
            {"t": 266.3, "s": "Todas"}, {"t": 281.7, "s": "Ir a..."},
            {"t": 524.4, "s": "16:20:14 (UTC+2)"}, {"t": 558.3, "s": "%"}, {"t": 564.4, "s": "log"}
          ]},
          "mark": {"type": "text", "fontSize": 6.3, "color": "#4a4a4a", "align": "left", "baseline": "middle", "dy": 6},
          "encoding": {
            "x": {"field": "t", "type": "quantitative", "scale": {"domain": [204.7, 562], "nice": false, "zero": false}, "axis": null},
            "text": {"field": "s"}
          }
        },
        {
          "data": {"values": [{"t": 278.8, "s": "|"}, {"t": 556.2, "s": "|"}]},
          "mark": {"type": "text", "fontSize": 7, "color": "#d0d0d0", "align": "center", "baseline": "middle", "dy": 6},
          "encoding": {
            "x": {"field": "t", "type": "quantitative", "axis": null},
            "text": {"field": "s"}
          }
        },
        {
          "data": {"values": [{"t": 573.2, "s": "auto"}]},
          "mark": {"type": "text", "fontSize": 6.3, "color": "#3d9be9", "align": "left", "baseline": "middle", "dy": 6},
          "encoding": {
            "x": {"field": "t", "type": "quantitative", "axis": null},
            "text": {"field": "s"}
          }
        },
        {
          "data": {"values": [{"t": 571.1, "s": "⚙"}]},
          "mark": {"type": "text", "fontSize": 7, "color": "#6a6a6a", "align": "center", "baseline": "middle", "dy": -7},
          "encoding": {
            "x": {"field": "t", "type": "quantitative", "axis": null},
            "text": {"field": "s"}
          }
        }
      ]
    }
  ]
}
